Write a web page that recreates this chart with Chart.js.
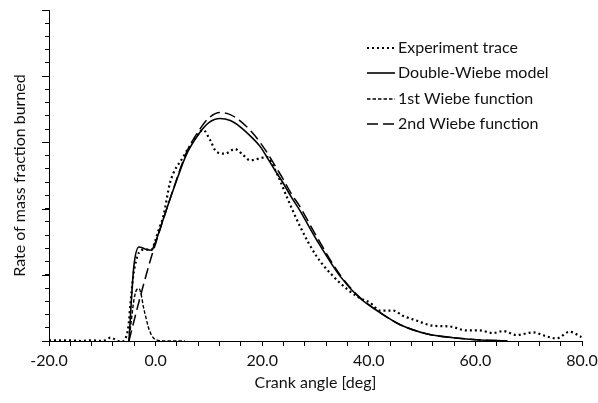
<!DOCTYPE html>
<html lang="en">
<head>
    <meta charset="UTF-8">
    <title>Double-Wiebe fit</title>
    <style>
        html, body { margin: 0; padding: 0; background: #fff; }
        #chartBox { width: 598px; height: 403px; }
    </style>
    <script src="https://cdn.jsdelivr.net/npm/chart.js"></script>
</head>
<body>
    <div id="chartBox"><canvas id="burnChart" width="598" height="403"></canvas></div>

    <script>
        // values (crank angle in deg, rate in arbitrary units)
        const expAngle = [-20, -18, -16, -14, -12, -10, -9, -8.5, -8, -7, -6, -5.75, -5.1, -4.7, -4.2, -3.7, -3.1, -2, -0.75, -0.13, 0.5, 1.5, 2.7, 5.1, 7.7, 8.9, 10.2, 11.4, 13.0, 14.9, 16.4, 17.7, 19.6, 20.8, 22.7, 24.6, 27.1, 30.2, 33.3, 36, 38.3, 40.2, 42.1, 44.6, 46.4, 48.9, 52.1, 55.2, 58.3, 60.8, 63.3, 65.2, 67.7, 70.8, 73.3, 75.2, 77.7, 79.9];
        const expRate = [0.01, 0.01, 0.01, 0.0, 0.01, 0.0, 0.03, 0.05, 0.04, 0.0, 0.0, 0.02, 0.22, 0.58, 0.98, 1.2, 1.34, 1.38, 1.38, 1.5, 1.66, 1.9, 2.39, 2.77, 3.09, 3.19, 3.04, 2.86, 2.83, 2.9, 2.81, 2.73, 2.76, 2.78, 2.54, 2.18, 1.73, 1.28, 0.98, 0.78, 0.65, 0.58, 0.46, 0.46, 0.38, 0.31, 0.23, 0.22, 0.16, 0.16, 0.12, 0.15, 0.09, 0.13, 0.07, 0.04, 0.14, 0.06];

        const modelAngle = [-5, -4.1, -3.1, -2, -0.8, 0, 1.4, 2.1, 3.6, 5.8, 8.3, 10, 12.1, 14, 15.8, 18, 19.6, 20.8, 22.7, 23.9, 25.5, 27, 30.2, 34.6, 38.3, 42.1, 45.8, 50.8, 55.8, 60.2, 66];
        const modelRate = [0, 1.11, 1.42, 1.39, 1.37, 1.5, 1.83, 2.0, 2.35, 2.82, 3.15, 3.3, 3.36, 3.33, 3.24, 3.08, 2.94, 2.79, 2.54, 2.39, 2.17, 1.98, 1.53, 0.98, 0.65, 0.43, 0.25, 0.11, 0.05, 0.02, 0];

        const wiebe1Angle = [-5, -4.5, -4, -3.5, -3.1, -2.6, -2.3, -1.8, -1.4, -0.9, -0.45, 0.5, 2, 5.5];
        const wiebe1Rate = [0, 0.35, 0.65, 0.78, 0.79, 0.66, 0.52, 0.35, 0.22, 0.11, 0.05, 0.01, 0, 0];

        const wiebe2Angle = [-5, -3.1, -0.8, 0, 1.4, 2.1, 3.6, 5.8, 8.3, 10, 12.1, 14, 15.8, 18, 19.6, 20.8, 22.7, 23.9, 25.5, 27, 30.2, 34.6, 38.3, 42.1, 45.8, 50.8, 55.8, 60.2, 66];
        const wiebe2Rate = [0, 0.6, 1.27, 1.47, 1.83, 2.0, 2.36, 2.85, 3.2, 3.37, 3.45, 3.42, 3.33, 3.16, 3.0, 2.86, 2.61, 2.45, 2.22, 2.04, 1.58, 1.0, 0.66, 0.43, 0.25, 0.11, 0.05, 0.02, 0];

        const seriesNames = ['Experiment trace', 'Double-Wiebe model', '1st Wiebe function', '2nd Wiebe function'];

        const xTickLabelStep = 20;
        const yMajorTicks = [0, 1, 2, 3, 4, 5];
        const fontFamily = 'Lato, "Open Sans", sans-serif';

        function toPoints(xs, ys) {
            return xs.map((x, i) => ({ x: x, y: ys[i] }));
        }

        // legend drawn by hand, top right inside the plot
        const lineLegend = {
            id: 'lineLegend',
            afterDraw(chart) {
                const ctx = chart.ctx;
                const x0 = 367, x1 = 395, textX = 398;
                const rowY = [48, 73, 99, 124];
                ctx.save();
                ctx.font = '16px ' + fontFamily;
                ctx.textBaseline = 'middle';
                ctx.fillStyle = '#111';
                chart.data.datasets.forEach((ds, i) => {
                    ctx.beginPath();
                    ctx.setLineDash(ds.borderDash || []);
                    ctx.lineWidth = ds.borderWidth;
                    ctx.strokeStyle = ds.borderColor;
                    ctx.moveTo(x0, rowY[i]);
                    ctx.lineTo(x1, rowY[i]);
                    ctx.stroke();
                    ctx.fillText(ds.label, textX, rowY[i]);
                });
                ctx.restore();
            }
        };

        // the whole-unit ticks on the y axis are a bit longer than the minor ones
        const majorTicks = {
            id: 'majorTicks',
            afterDraw(chart) {
                const yScale = chart.scales.y;
                const ctx = chart.ctx;
                ctx.save();
                ctx.strokeStyle = '#000';
                ctx.lineWidth = 1;
                yMajorTicks.forEach(v => {
                    const py = Math.round(yScale.getPixelForValue(v)) + 0.5;
                    ctx.beginPath();
                    ctx.moveTo(yScale.right - 7, py);
                    ctx.lineTo(yScale.right, py);
                    ctx.stroke();
                });
                ctx.restore();
            }
        };

        const ctx = document.getElementById('burnChart').getContext('2d');
        new Chart(ctx, {
            type: 'line',
            data: {
                datasets: [
                    {
                        label: seriesNames[0],
                        data: toPoints(expAngle, expRate),
                        borderColor: '#000',
                        borderWidth: 2.2,
                        borderDash: [2, 3],
                        pointRadius: 0,
                        cubicInterpolationMode: 'monotone'
                    },
                    {
                        label: seriesNames[1],
                        data: toPoints(modelAngle, modelRate),
                        borderColor: '#000',
                        borderWidth: 1.6,
                        borderDash: [],
                        pointRadius: 0,
                        cubicInterpolationMode: 'monotone'
                    },
                    {
                        label: seriesNames[2],
                        data: toPoints(wiebe1Angle, wiebe1Rate),
                        borderColor: '#000',
                        borderWidth: 1.4,
                        borderDash: [3.5, 2],
                        pointRadius: 0,
                        cubicInterpolationMode: 'monotone'
                    },
                    {
                        label: seriesNames[3],
                        data: toPoints(wiebe2Angle, wiebe2Rate),
                        borderColor: '#000',
                        borderWidth: 1.5,
                        borderDash: [11, 5],
                        pointRadius: 0,
                        cubicInterpolationMode: 'monotone'
                    }
                ]
            },
            options: {
                responsive: false,
                animation: false,
                layout: { padding: { left: 0, right: 16, top: 10, bottom: 0 } },
                plugins: {
                    legend: { display: false },
                    tooltip: { enabled: false }
                },
                scales: {
                    x: {
                        type: 'linear',
                        min: -20,
                        max: 80,
                        afterFit: scale => {
                            scale.height = 62;
                            scale.paddingRight = 0;
                            scale.paddingLeft = 0;
                        },
                        ticks: {
                            stepSize: 4,
                            autoSkip: false,
                            maxRotation: 0,
                            padding: 5,
                            color: '#111',
                            font: { family: fontFamily, size: 16 },
                            callback: v => (Math.abs(v % xTickLabelStep) < 1e-6 ? v.toFixed(1) : '')
                        },
                        grid: { drawOnChartArea: false, drawTicks: true, tickLength: 5, color: '#000' },
                        border: { display: true, color: '#000', width: 1 },
                        title: {
                            display: true,
                            text: 'Crank angle [deg]',
                            color: '#111',
                            font: { family: fontFamily, size: 16 },
                            padding: { top: 0, bottom: 11 }
                        }
                    },
                    y: {
                        min: 0,
                        max: 5,
                        afterFit: scale => { scale.width = 49; },
                        ticks: { stepSize: 0.2, display: false },
                        grid: { drawOnChartArea: false, drawTicks: true, tickLength: 4, color: '#000' },
                        border: { display: true, color: '#000', width: 1 },
                        title: {
                            display: true,
                            text: 'Rate of mass fraction burned',
                            color: '#111',
                            font: { family: fontFamily, size: 16 },
                            padding: { top: 10, bottom: 0 }
                        }
                    }
                }
            },
            plugins: [lineLegend, majorTicks]
        });
    </script>
</body>
</html>
